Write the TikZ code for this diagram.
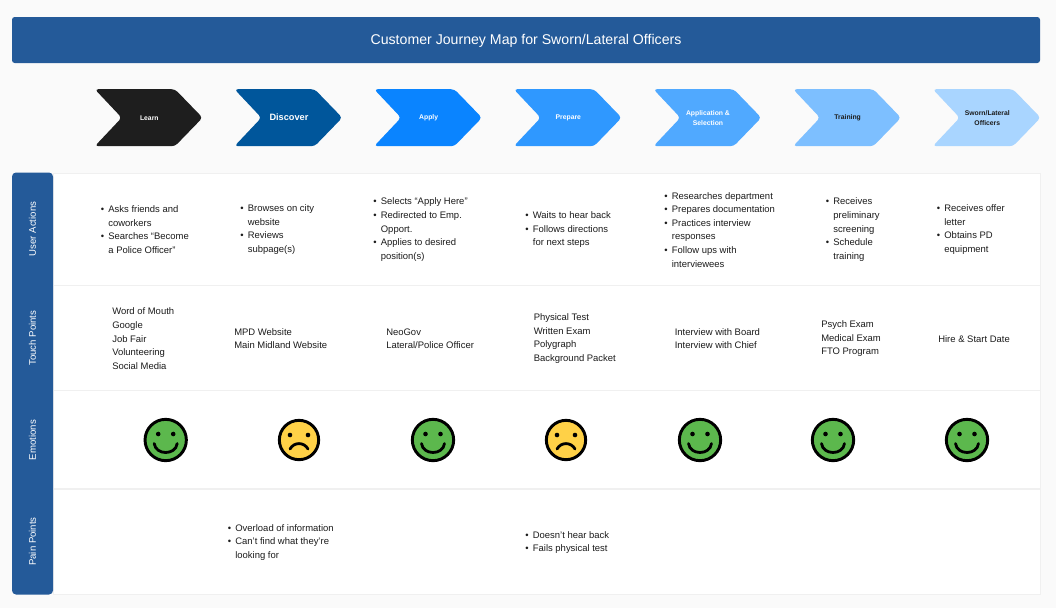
\documentclass[tikz,border=0pt]{standalone}
\usepackage{fontspec}
\setmainfont{Liberation Sans}
\usetikzlibrary{positioning, backgrounds}
\definecolor{pageback}{HTML}{FAFAFA}
\definecolor{bannerblue}{HTML}{245A99}
\definecolor{rowline}{HTML}{F0F0F0}
\definecolor{learnc}{HTML}{1E1E1E}
\definecolor{discoverc}{HTML}{00569B}
\definecolor{applyc}{HTML}{0A84FF}
\definecolor{preparec}{HTML}{2F98FF}
\definecolor{selectc}{HTML}{50A9FF}
\definecolor{trainc}{HTML}{7DBFFF}
\definecolor{swornc}{HTML}{A9D5FF}
\definecolor{happyc}{HTML}{5CB84D}
\definecolor{sadc}{HTML}{FFD147}
\definecolor{inktext}{HTML}{1C1C1C}
\newcommand{\blt}{\makebox[5.7pt][l]{\textbullet}}
\newcommand{\cnt}{\hspace*{5.7pt}}
\newcommand{\chevronback}[2]{\fill[#2, rounded corners=2.6pt, shift={(#1.center)}] (-54.5,-28.5) -- (25.7,-28.5) -- (53.3,0) -- (25.7,28.5) -- (-54.5,28.5) -- (-27.6,0) -- cycle;}
\tikzset{
  chevron/.style={rectangle, minimum width=79.5pt, minimum height=42.75pt, inner sep=0pt, align=center, text=white, font=\fontsize{5.1}{7.5}\selectfont\bfseries},
  darklabel/.style={text=inktext},
  bodytext/.style={anchor=west, yshift=-0.5pt, inner sep=0pt, align=left, text=inktext, font=\fontsize{7.1}{10.2}\selectfont},
  rowlabel/.style={rotate=90, inner sep=0pt, text=white, font=\fontsize{7.2}{9}\selectfont},
  facering/.style={circle, draw=black, line width=2.2pt, inner sep=0pt},
  mouth/.style={line width=2.1pt, line cap=round},
  happy/.pic={
    \fill (-7.5,-6) circle (2.3) (7.5,-6) circle (2.3);
    \draw[mouth] (-11.5,3.5) .. controls (-10,15.5) and (10,15.5) .. (11.5,3.5);
  },
  sad/.pic={
    \fill (-9,-5) circle (2.3) (9,-5) circle (2.3);
    \draw[mouth] (-9,9) .. controls (-5,1.8) and (5,1.8) .. (9,9);
  }
}
\begin{document}
\begin{tikzpicture}[x=0.75pt, y=-0.75pt, node distance=24.85pt]
\useasboundingbox (0,0) rectangle (1056,608);

% banner
\node (banner) [fill=bannerblue, rounded corners=2pt, minimum width=771pt, minimum height=34.5pt, inner sep=0pt, text height=7pt, text depth=0pt, text=white, font=\fontsize{10.6}{12}\selectfont] at (526,40) {Customer Journey Map for Sworn/Lateral Officers};

% stages
\node (learn) [chevron] at (149.3,117.7) {Learn};
\node (discover) [chevron, right=of learn, font=\fontsize{6.9}{9}\selectfont\bfseries] {Discover};
\node (apply) [chevron, right=of discover] {Apply};
\node (prepare) [chevron, right=of apply] {Prepare};
\node (selection) [chevron, right=of prepare] {Application \&\\Selection};
\node (training) [chevron, darklabel, right=of selection] {Training};
\node (sworn) [chevron, darklabel, right=of training] {Sworn/Lateral\\Officers};

\begin{scope}[on background layer]
\fill[pageback] (0,0) rectangle (1056,608);
\chevronback{learn}{learnc}
\chevronback{discover}{discoverc}
\chevronback{apply}{applyc}
\chevronback{prepare}{preparec}
\chevronback{selection}{selectc}
\chevronback{training}{trainc}
\chevronback{sworn}{swornc}
\end{scope}

% table
\fill[white] (53,173) rectangle (1040,594);
\draw[rowline] (53,173) rectangle (1040,594);
\draw[rowline, line width=1pt] (53,285.5) -- (1040,285.5);
\draw[rowline, line width=1pt] (53,390.5) -- (1040,390.5);
\draw[rowline, line width=1pt] (53,489) -- (1040,489);
\fill[bannerblue, rounded corners=3pt] (53,172.5) -- (12,172.5) -- (12,594.5) -- (53,594.5) -- cycle;
\node (actionslabel) [rowlabel] at (32.5,229) {User Actions};
\node (touchlabel) [rowlabel] at (32.5,338) {Touch Points};
\node (emotionslabel) [rowlabel] at (32.5,440) {Emotions};
\node (painlabel) [rowlabel] at (32.5,541.5) {Pain Points};

% user actions
\node (actionsa) [bodytext] at (100.5,229) {\blt Asks friends and\\\cnt coworkers\\\blt Searches ``Become\\\cnt a Police Officer''};
\node (actionsb) [bodytext] at (240,229) {\blt Browses on city\\\cnt website\\\blt Reviews\\\cnt subpage(s)};
\node (actionsc) [bodytext] at (373,229) {\blt Selects ``Apply Here''\\\blt Redirected to Emp.\\\cnt Opport.\\\blt Applies to desired\\\cnt position(s)};
\node (actionsd) [bodytext] at (525,229) {\blt Waits to hear back\\\blt Follows directions\\\cnt for next steps};
\node (actionse) [bodytext] at (664,229) {\blt Researches department\\\blt Prepares documentation\\\blt Practices interview\\\cnt responses\\\blt Follow ups with\\\cnt interviewees};
\node (actionsf) [bodytext] at (825.5,229) {\blt Receives\\\cnt preliminary\\\cnt screening\\\blt Schedule\\\cnt training};
\node (actionsg) [bodytext] at (936.5,229) {\blt Receives offer\\\cnt letter\\\blt Obtains PD\\\cnt equipment};

% touch points
\node (toucha) [bodytext] at (112,338) {Word of Mouth\\Google\\Job Fair\\Volunteering\\Social Media};
\node (touchb) [bodytext] at (234,338) {MPD Website\\Main Midland Website};
\node (touchc) [bodytext] at (386,338) {NeoGov\\Lateral/Police Officer};
\node (touchd) [bodytext] at (533.5,338) {Physical Test\\Written Exam\\Polygraph\\Background Packet};
\node (touche) [bodytext] at (674.5,338) {Interview with Board\\Interview with Chief};
\node (touchf) [bodytext] at (821,338) {Psych Exam\\Medical Exam\\FTO Program};
\node (touchg) [bodytext] at (938,338) {Hire \& Start Date};

% emotions
\node (facea) [facering, fill=happyc, minimum size=31pt] at (165.7,440) {};
\node (faceb) [facering, fill=sadc, minimum size=29.5pt] at (299,440) {};
\node (facec) [facering, fill=happyc, minimum size=31pt] at (433,440) {};
\node (faced) [facering, fill=sadc, minimum size=29.5pt] at (566,440) {};
\node (facee) [facering, fill=happyc, minimum size=31pt] at (700,440) {};
\node (facef) [facering, fill=happyc, minimum size=31pt] at (833,440) {};
\node (faceg) [facering, fill=happyc, minimum size=31pt] at (967,440) {};
\pic at (165.7,440) {happy};
\pic at (299,440) {sad};
\pic at (433,440) {happy};
\pic at (566,440) {sad};
\pic at (700,440) {happy};
\pic at (833,440) {happy};
\pic at (967,440) {happy};

% pain points
\node (painb) [bodytext] at (227.5,541.5) {\blt Overload of information\\\blt Can't find what they're\\\cnt looking for};
\node (paind) [bodytext] at (525,542) {\blt Doesn't hear back\\\blt Fails physical test};
\end{tikzpicture}
\end{document}
